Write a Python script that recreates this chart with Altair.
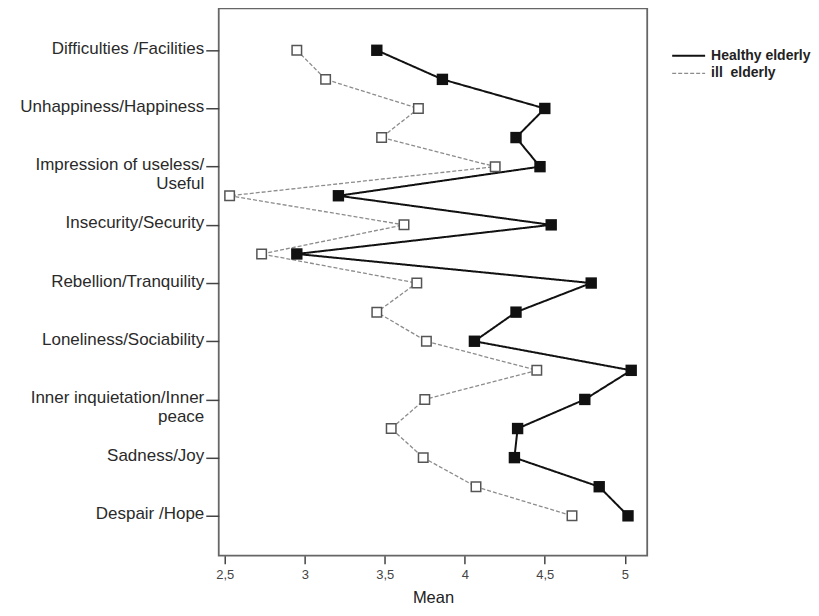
import altair as alt
import pandas as pd

rows = list(range(17))
healthy = [3.45, 3.86, 4.50, 4.32, 4.47, 3.21, 4.54, 2.95, 4.79, 4.32, 4.06, 5.04, 4.75, 4.33, 4.31, 4.84, 5.02]
ill = [2.95, 3.13, 3.71, 3.48, 4.19, 2.53, 3.62, 2.73, 3.70, 3.45, 3.76, 4.45, 3.75, 3.54, 3.74, 4.07, 4.67]
series_names = ["Healthy elderly", "ill\u00a0 elderly"]
row_labels = [
    ["Difficulties /Facilities"],
    ["Unhappiness/Happiness"],
    ["Impression of useless/", "Useful"],
    ["Insecurity/Security"],
    ["Rebellion/Tranquility"],
    ["Loneliness/Sociability"],
    ["Inner inquietation/Inner", "peace"],
    ["Sadness/Joy"],
    ["Despair /Hope"],
]
x_ticks = [2.5, 3, 3.5, 4, 4.5, 5]

df = pd.DataFrame(
    {"row": rows + rows,
     "mean": healthy + ill,
     "series": [series_names[0]] * len(rows) + [series_names[1]] * len(rows)}
)

def js_list(items):
    parts = []
    for it in items:
        parts.append("[" + ",".join("'" + s.replace("'", "\\'") + "'" for s in it) + "]")
    return "[" + ",".join(parts) + "]"

label_expr = js_list(row_labels) + "[floor(datum.value/2)]"
FONT = "Liberation Sans"

x_enc = alt.X(
    "mean:Q",
    scale=alt.Scale(domain=[2.462, 5.14], nice=False, zero=False),
    axis=alt.Axis(
        title="Mean", values=x_ticks, grid=False, domain=False,
        labelExpr="replace(format(datum.value, '.1~f'), '.', ',')",
        tickSize=8, tickColor="#444", tickWidth=1.5, labelPadding=5,
        labelFontSize=13, labelColor="#444", titleFontSize=16.5,
        titleFontWeight="normal", titleColor="#222", titlePadding=8,
        labelFont=FONT, titleFont=FONT,
    ),
)
y_enc = alt.Y(
    "row:Q",
    scale=alt.Scale(domain=[-1.44, 17.37], nice=False, zero=False, reverse=True),
    axis=alt.Axis(
        title=None, values=list(range(0, 17, 2)), grid=False, domain=False,
        labelExpr=label_expr, tickSize=13, tickColor="#444", tickWidth=1.5,
        labelPadding=2, labelFontSize=17, labelColor="#2a2a2a",
        labelBaseline="top", labelOffset=-10, labelLineHeight=19,
        labelLimit=400, labelFont=FONT,
    ),
)

base = alt.Chart(df)

lines = base.mark_line().encode(
    x=x_enc,
    y=y_enc,
    order=alt.Order("row:Q"),
    color=alt.Color("series:N", scale=alt.Scale(domain=series_names, range=["#111111", "#8c8c8c"]),
                    legend=alt.Legend(title=None, orient="none", legendX=461, legendY=38,
                                      symbolType="M-2,0L2,0", symbolSize=272,
                                      labelFontWeight="bold", labelFontSize=14,
                                      labelColor="#222", labelFont=FONT,
                                      labelOffset=13, rowPadding=1, padding=0)),
    strokeDash=alt.StrokeDash("series:N", scale=alt.Scale(domain=series_names, range=[[1, 0], [4, 2]])),
    strokeWidth=alt.StrokeWidth("series:N", scale=alt.Scale(domain=series_names, range=[2, 1.3])),
)

pts_healthy = base.transform_filter(alt.datum.series == series_names[0]).mark_point(
    shape="square", filled=True, size=130, color="#111111", opacity=1
).encode(x="mean:Q", y="row:Q")

pts_ill = base.transform_filter(alt.datum.series == series_names[1]).mark_point(
    shape="square", filled=True, size=90, fill="white", stroke="#555555", strokeWidth=1.5, opacity=1
).encode(x="mean:Q", y="row:Q")

chart = alt.layer(lines, pts_ill, pts_healthy).properties(
    width=429, height=548, background="white",
    padding={"left": 11, "top": 0, "right": 0, "bottom": 0},
).configure_view(stroke="#666666", strokeWidth=1.8)

chart.save("out.html", embed_options={"renderer": "svg", "actions": False})
